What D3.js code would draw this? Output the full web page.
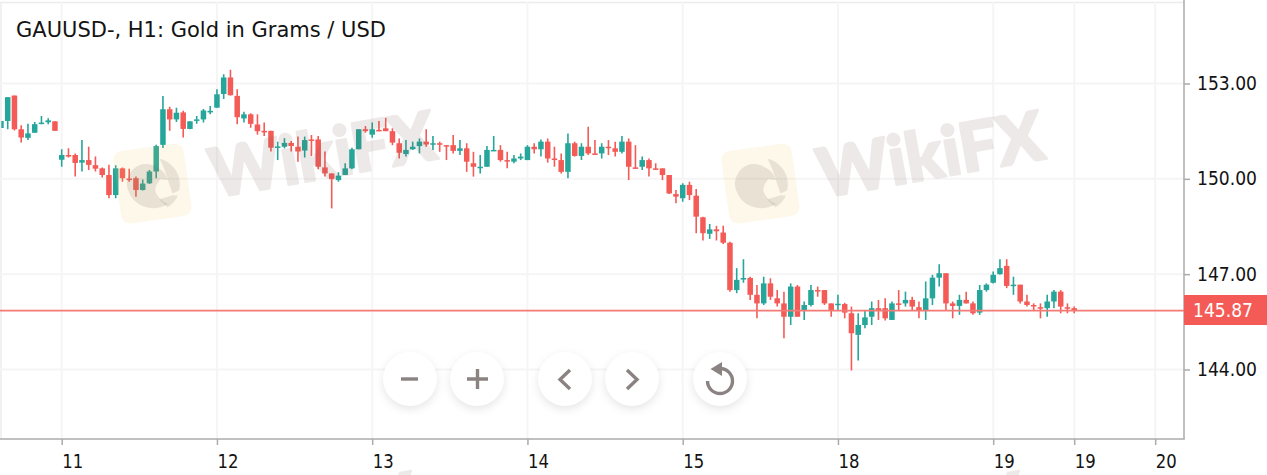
<!DOCTYPE html>
<html>
<head>
<meta charset="utf-8">
<style>
  html, body { margin: 0; padding: 0; background: #fff; overflow: hidden; }
  text { font-family: "DejaVu Sans", sans-serif; fill: #131313; }
  .axis path { display: none; }
  .axis line { stroke: #ababab; stroke-width: 1.5; }
  .btn { filter: drop-shadow(0 3px 4px rgba(0,0,0,0.10)); }
</style>
</head>
<body>
<div id="chart"></div>
<script src="https://d3js.org/d3.v7.min.js"></script>
<script>
var title = 'GAUUSD-, H1: Gold in Grams / USD'

var opens = [
  151.60,151.82,152.62,151.56,151.29,151.45,151.73,151.78,151.81,150.60,
  150.75,150.75,150.51,150.59,150.43,150.33,150.12,149.49,150.33,150.01,
  150.02,149.65,149.86,150.23,151.07,152.19,151.87,152.09,151.57,151.83,
  151.87,152.09,152.24,152.67,153.19,152.61,151.90,152.03,151.71,151.51,
  151.51,150.99,151.01,151.13,151.01,150.89,151.24,151.24,150.36,150.17,
  149.96,150.12,150.33,150.93,151.56,151.39,151.54,151.59,151.50,151.12,
  150.78,150.93,151.03,151.17,151.08,151.12,151.06,151.06,150.88,150.96,
  150.49,150.34,150.38,150.88,150.91,150.59,150.54,150.64,150.59,151.01,
  150.93,151.17,150.64,150.59,150.22,151.12,150.72,151.01,150.80,150.80,
  151.01,150.96,150.85,151.17,150.36,150.38,150.59,150.33,150.33,150.12,
  149.52,149.39,149.81,149.47,148.79,148.27,148.41,148.31,147.99,146.50,
  146.83,146.88,146.35,146.08,146.71,146.24,146.08,145.66,146.61,145.87,
  146.03,146.50,146.50,146.08,146.04,146.06,145.77,145.09,145.40,145.66,
  145.93,145.93,145.56,146.08,146.08,146.19,145.96,145.85,146.24,146.89,
  147.03,146.08,146.00,146.19,146.08,145.79,146.50,146.73,147.00,147.26,
  146.63,146.67,146.14,146.03,145.96,145.93,146.14,146.45,145.96,145.93
]
var highs = [
  151.82,152.57,152.62,151.69,151.73,151.79,151.98,151.91,151.81,150.93,
  150.96,150.80,151.22,151.01,150.70,150.36,150.44,150.43,150.36,150.32,
  150.07,149.98,150.28,151.07,152.61,152.27,152.24,152.14,151.81,151.98,
  152.20,152.29,152.82,153.29,153.43,152.82,152.11,152.06,152.03,151.77,
  151.51,151.17,151.28,151.19,151.33,151.33,151.38,151.35,150.86,150.17,
  150.21,150.49,150.98,151.56,151.66,151.77,151.82,151.92,151.59,151.27,
  151.22,151.17,151.27,151.56,151.35,151.17,151.06,151.38,151.22,151.12,
  150.85,150.75,151.03,151.35,151.06,150.85,150.75,150.80,151.06,151.12,
  151.24,151.27,151.01,150.80,151.43,151.17,151.12,151.64,151.22,151.12,
  151.22,151.17,151.35,151.27,151.06,150.70,150.64,150.49,150.33,150.12,
  149.65,149.86,149.91,149.68,148.81,148.58,148.52,148.52,148.02,147.19,
  147.47,146.92,146.66,146.92,146.87,146.50,146.45,146.71,146.66,146.14,
  146.66,146.61,146.50,146.08,146.35,146.10,145.98,145.77,145.85,146.14,
  146.19,146.24,146.14,146.50,146.45,146.29,146.14,146.77,146.98,147.31,
  147.03,146.14,146.35,146.45,146.14,146.66,146.71,147.08,147.47,147.47,
  146.92,146.67,146.35,146.08,146.08,146.35,146.50,146.50,146.08,145.98
]
var lows = [
  151.60,151.56,151.52,151.14,151.22,151.45,151.72,151.72,151.51,150.38,
  150.67,150.07,150.23,150.28,150.23,150.04,149.39,149.39,149.91,149.91,
  149.44,149.63,149.84,150.02,150.97,151.51,151.79,151.30,151.56,151.73,
  151.77,152.03,152.24,152.51,152.62,151.72,151.77,151.61,151.39,151.35,
  150.86,150.59,150.96,150.86,150.54,150.67,150.72,150.30,150.07,149.07,
  149.91,150.12,150.30,150.93,151.45,151.29,151.50,151.50,151.06,150.64,
  150.70,150.91,150.80,151.01,150.91,150.85,150.59,150.80,150.75,150.22,
  150.07,150.17,150.38,150.88,150.54,150.33,150.49,150.59,150.59,150.80,
  150.70,150.51,150.38,150.17,150.02,150.70,150.59,150.75,150.77,150.64,
  150.75,150.70,150.80,149.96,150.33,150.28,150.07,150.28,149.96,149.52,
  149.23,149.28,149.33,148.29,148.06,148.11,148.06,147.95,146.45,146.40,
  146.73,146.19,145.61,146.03,146.19,145.98,144.98,145.40,145.66,145.56,
  145.98,146.29,146.03,145.66,145.87,145.61,143.97,144.28,145.30,145.40,
  145.56,145.54,145.56,145.84,145.98,145.85,145.61,145.56,146.03,146.61,
  145.84,145.61,145.72,146.08,145.72,145.72,146.45,146.71,146.98,146.56,
  146.35,146.08,145.98,145.84,145.61,145.66,145.93,145.77,145.77,145.77
]
var closes = [
  151.82,152.57,151.56,151.30,151.43,151.72,151.77,151.84,151.51,150.75,
  150.70,150.50,150.59,150.44,150.32,150.12,149.49,150.33,150.02,149.96,
  149.65,149.85,150.23,151.03,152.19,151.87,152.08,151.57,151.81,151.87,
  152.15,152.14,152.66,153.19,152.63,151.94,152.03,151.73,151.50,151.46,
  150.98,151.02,151.13,151.03,150.86,151.22,151.20,150.38,150.17,149.99,
  150.10,150.33,150.93,151.56,151.50,151.56,151.52,151.50,151.14,150.82,
  150.91,151.01,151.17,151.08,151.12,151.10,151.04,150.88,150.96,150.54,
  150.38,150.38,150.91,150.91,150.59,150.55,150.64,150.70,151.01,150.93,
  151.17,150.64,150.60,150.22,151.12,150.72,151.01,150.80,150.77,151.01,
  150.98,150.85,151.17,150.38,150.34,150.59,150.33,150.30,150.12,149.54,
  149.44,149.81,149.49,148.81,148.29,148.41,148.35,147.99,146.50,146.82,
  146.88,146.35,146.08,146.71,146.29,146.08,145.66,146.61,145.66,146.03,
  146.50,146.46,146.08,145.85,146.07,145.79,145.14,145.40,145.64,145.93,
  145.84,145.61,146.08,146.05,146.19,145.98,145.84,146.24,146.89,147.03,
  146.08,146.00,146.19,146.08,145.77,146.50,146.67,146.98,147.19,146.63,
  146.67,146.14,146.03,145.99,145.93,146.14,146.45,145.98,145.93,145.87
]

var timeTicks = [9, 32, 55, 78, 101, 124, 147, 159, 171]
var timeLabels = ['11', '12', '13', '14', '15', '18', '19', '19', '20']
var priceTicks = [144, 147, 150, 153]
var lastPrice = 145.87

var width = 1267
var height = 475
var plotRight = 1184
var plotBottom = 439

var red = '#f45b57'
var green = '#26a69a'
var gridColor = '#f5f5f6'

var xScale = d3.scaleLinear().domain([0, 160]).range([0.95, 1080.95])
var yScale = d3.scaleLinear().domain([144, 153]).range([369.5, 83.5])

var svg = d3
  .select('#chart')
  .append('svg')
  .attr('width', width)
  .attr('height', height)
  .style('display', 'block')

svg
  .append('clipPath')
  .attr('id', 'plot-clip')
  .append('rect')
  .attr('x', 1.5)
  .attr('y', 0)
  .attr('width', plotRight - 1.5)
  .attr('height', plotBottom)

// frame
svg.append('line').attr('x1', 0).attr('x2', plotRight).attr('y1', 2.5).attr('y2', 2.5)
  .attr('stroke', '#ececec').attr('stroke-width', 1.5)
svg.append('line').attr('x1', 1).attr('x2', 1).attr('y1', 2).attr('y2', plotBottom)
  .attr('stroke', '#ececec').attr('stroke-width', 1.5)

// grid
svg.append('g').selectAll('line').data(priceTicks).enter().append('line')
  .attr('x1', 0).attr('x2', plotRight)
  .attr('y1', d => yScale(d)).attr('y2', d => yScale(d))
  .attr('stroke', gridColor).attr('stroke-width', 2)
svg.append('g').selectAll('line').data(timeTicks).enter().append('line')
  .attr('x1', d => xScale(d)).attr('x2', d => xScale(d))
  .attr('y1', 2).attr('y2', plotBottom)
  .attr('stroke', gridColor).attr('stroke-width', 2)

// axes
var xAxis = d3.axisBottom(xScale)
  .tickValues(timeTicks)
  .tickSize(6)
  .tickFormat((d, i) => timeLabels[i])
var xG = svg.append('g').attr('class', 'axis x-axis')
  .attr('transform', 'translate(0,' + plotBottom + ')')
  .call(xAxis)
xG.selectAll('text')
  .attr('text-anchor', 'start')
  .attr('font-size', 20)
  .attr('dy', 0)
  .attr('y', 29)
  .attr('x', 0)
  .attr('textLength', 21)
  .attr('lengthAdjust', 'spacingAndGlyphs')

var yAxis = d3.axisRight(yScale)
  .tickValues(priceTicks)
  .tickSize(6)
  .tickFormat(d3.format('.2f'))
var yG = svg.append('g').attr('class', 'axis y-axis')
  .attr('transform', 'translate(' + plotRight + ',0)')
  .call(yAxis)
yG.selectAll('text')
  .attr('x', 13)
  .attr('font-size', 19)
  .attr('textLength', 60)
  .attr('lengthAdjust', 'spacingAndGlyphs')

svg.append('line').attr('x1', 0).attr('x2', plotRight + 0.75)
  .attr('y1', plotBottom).attr('y2', plotBottom)
  .attr('stroke', '#ababab').attr('stroke-width', 1.5)
svg.append('line').attr('x1', plotRight).attr('x2', plotRight)
  .attr('y1', 0).attr('y2', plotBottom)
  .attr('stroke', '#ababab').attr('stroke-width', 1.5)

// candles
var candles = d3.range(opens.length)
var candleG = svg.append('g').attr('clip-path', 'url(#plot-clip)')
function candleColor(i) {
  return closes[i] >= opens[i] ? green : red
}
candleG.selectAll('.wick').data(candles).enter().append('line')
  .attr('class', 'wick')
  .attr('x1', d => xScale(d)).attr('x2', d => xScale(d))
  .attr('y1', d => yScale(highs[d])).attr('y2', d => yScale(lows[d]))
  .attr('stroke', candleColor)
  .attr('stroke-width', 1.6)
candleG.selectAll('.body').data(candles).enter().append('rect')
  .attr('class', 'body')
  .attr('x', d => xScale(d) - 2.75)
  .attr('width', 5.5)
  .attr('y', d => yScale(Math.max(opens[d], closes[d])))
  .attr('height', d => Math.max(1.5, Math.abs(yScale(opens[d]) - yScale(closes[d]))))
  .attr('fill', candleColor)

// last price
svg.append('line').attr('x1', 0).attr('x2', plotRight)
  .attr('y1', yScale(lastPrice) + 0.6).attr('y2', yScale(lastPrice) + 0.6)
  .attr('stroke', '#f47a76').attr('stroke-width', 1.8)
svg.append('rect').attr('x', plotRight).attr('y', 295)
  .attr('width', width - plotRight).attr('height', 30)
  .attr('fill', red)
svg.append('text').text(d3.format('.2f')(lastPrice))
  .attr('x', 1193).attr('y', 317)
  .attr('font-size', 19)
  .attr('textLength', 60)
  .attr('lengthAdjust', 'spacingAndGlyphs')
  .style('fill', '#fff')

// title
svg.append('text').text(title)
  .attr('x', 16).attr('y', 37)
  .attr('font-size', 21)

// watermarks, painted over the candles
var markOffsets = [[0, 0], [608, 0], [-19, 361], [589, 361]]
markOffsets.forEach(function(o) {
  var g = svg.append('g')
    .attr('transform', 'translate(' + (153 + o[0]) + ',' + (184 + o[1]) + ') rotate(-8)')
  g.append('rect').attr('x', -36).attr('y', -37).attr('width', 71).attr('height', 73).attr('rx', 9)
    .attr('fill', 'rgba(245,200,80,0.12)')
  // eagle head and the ring pieces round it
  g.append('path')
    .attr('d', 'M-26,-4C-22,-20 -6,-26 6,-16C12,-12 14,-8 15,-2L8,-4C4,0 0,4 2,10C4,16 8,20 12,22C0,28 -16,22 -22,12C-25,6 -26,2 -26,-4Z')
    .attr('fill', 'rgba(120,105,100,0.16)')
  g.append('path')
    .attr('d', 'M10,-24A26,26 0 0 1 25,10L18,12L13,-14ZM23,15A26,26 0 0 1 11,25L4,16L18,14Z')
    .attr('fill', 'rgba(120,105,100,0.16)')
  svg.append('text').text('WikiFX')
    .attr('transform', 'translate(' + (214 + o[0]) + ',' + (198 + o[1]) + ') rotate(-10)')
    .attr('font-size', 68)
    .attr('font-weight', 900)
    .attr('stroke-width', 2.5)
    .attr('stroke-linejoin', 'round')
    .attr('opacity', 0.13)
    .style('font-family', 'Lato, sans-serif')
    .style('fill', '#785f55')
    .style('stroke', '#785f55')
})

// zoom / scroll buttons
var buttonX = [410, 477, 565, 632, 720]
var buttonY = 379
var iconColor = '#8a8381'
svg.append('g').selectAll('circle').data(buttonX).enter().append('circle')
  .attr('class', 'btn')
  .attr('cx', d => d).attr('cy', buttonY).attr('r', 27)
  .attr('fill', '#fff')

var icons = svg.append('g')
  .attr('fill', 'none')
  .attr('stroke', iconColor)
  .attr('stroke-width', 3.4)
icons.append('path').attr('d', 'M401,379H418')
icons.append('path').attr('d', 'M467,379H488M477.5,369V389')
icons.append('path').attr('d', 'M570,370L560,379.5L570,389')
icons.append('path').attr('d', 'M627,370L637,379.5L627,389')
icons.append('path').attr('d', 'M720,368.5A12.5,12.5 0 1 1 707.5,381')
icons.append('path').attr('d', 'M722,362V376L710.5,369Z')
  .attr('fill', iconColor).attr('stroke', 'none')
</script>
</body>
</html>
